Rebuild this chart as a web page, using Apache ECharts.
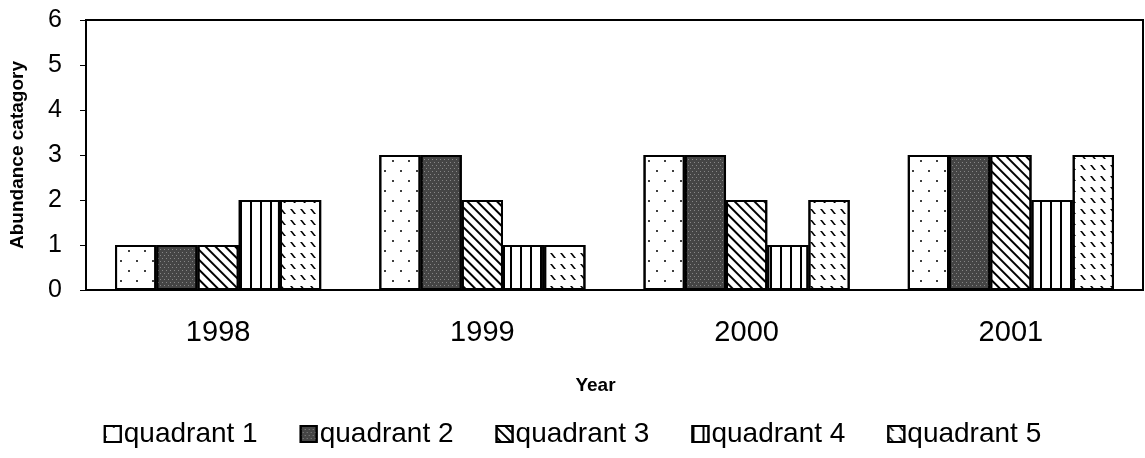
<!DOCTYPE html>
<html>
<head>
<meta charset="utf-8">
<script src="https://cdn.jsdelivr.net/npm/echarts@6/dist/echarts.min.js"></script>
<style>
  html, body { margin: 0; padding: 0; background: #fff; }
  #chart { width: 1145px; height: 458px; }
</style>
</head>
<body>
<div id="chart"></div>
<script>
const years = ['1998', '1999', '2000', '2001'];
const quadrant1 = [1, 3, 3, 3];
const quadrant2 = [1, 3, 3, 3];
const quadrant3 = [1, 2, 2, 3];
const quadrant4 = [2, 1, 1, 2];
const quadrant5 = [2, 1, 2, 3];
const seriesNames = ['quadrant 1', 'quadrant 2', 'quadrant 3', 'quadrant 4', 'quadrant 5'];
const yTicks = [0, 1, 2, 3, 4, 5, 6];

const font = 'Arial, "Liberation Sans", sans-serif';

// fill patterns, one per quadrant
const decals = [
  { symbol: 'circle', symbolSize: 1, color: '#000', dashArrayX: [[2, 14], [0, 8, 2, 6]], dashArrayY: [2, 8] },
  { symbol: 'rect', symbolSize: 1, color: 'rgba(255,255,255,0.35)', dashArrayX: [[1, 3], [0, 2, 1, 1]], dashArrayY: [1, 2] },
  { symbol: 'rect', symbolSize: 1, color: '#000', dashArrayX: [10, 0], dashArrayY: [2, 5], rotation: Math.PI / 4 },
  { symbol: 'rect', symbolSize: 1, color: '#000', dashArrayX: [2, 8], dashArrayY: [10, 0] },
  { symbol: 'path://M0,0 L2,0 L6,5 L4,5 Z', symbolSize: 1, color: '#000', dashArrayX: [6, 4], dashArrayY: [5, 6] }
];
const fills = ['#fff', '#454545', '#fff', '#fff', '#fff'];
const values = [quadrant1, quadrant2, quadrant3, quadrant4, quadrant5];

const chart = echarts.init(document.getElementById('chart'));

chart.setOption({
  animation: false,
  backgroundColor: '#fff',
  grid: {
    left: 85, right: 2, top: 20, bottom: 168,
    show: true, borderColor: '#000', borderWidth: 2, backgroundColor: 'transparent'
  },
  legend: {
    data: seriesNames,
    bottom: 5,
    left: 'center',
    icon: 'rect',
    itemWidth: 16,
    itemHeight: 16,
    itemGap: 42,
    textStyle: { fontFamily: font, fontSize: 28, color: '#000', padding: [0, 0, 0, -2] }
  },
  xAxis: {
    type: 'category',
    data: years,
    name: 'Year',
    nameLocation: 'middle',
    nameGap: 86,
    nameTextStyle: { fontFamily: font, fontSize: 19, fontWeight: 'bold', color: '#000', padding: [0, 38, 0, 0] },
    axisLine: { lineStyle: { color: '#000', width: 2 } },
    axisTick: { show: false },
    axisLabel: { fontFamily: font, fontSize: 29, color: '#000', margin: 28 }
  },
  yAxis: {
    type: 'value',
    min: yTicks[0],
    max: yTicks[yTicks.length - 1],
    interval: 1,
    name: 'Abundance catagory',
    nameLocation: 'middle',
    nameGap: 59,
    nameTextStyle: { fontFamily: font, fontSize: 19, fontWeight: 'bold', color: '#000' },
    axisLine: { show: true, lineStyle: { color: '#000', width: 2 } },
    axisTick: { show: true, length: 6, lineStyle: { color: '#000' } },
    splitLine: { show: false },
    axisLabel: { fontFamily: font, fontSize: 25, color: '#000', margin: 24 }
  },
  series: seriesNames.map((name, i) => ({
    name: name,
    type: 'bar',
    data: values[i],
    barGap: 0,
    barCategoryGap: '22%',
    itemStyle: {
      color: fills[i],
      borderColor: '#000',
      borderWidth: 2,
      decal: decals[i]
    }
  }))
});
</script>
</body>
</html>
